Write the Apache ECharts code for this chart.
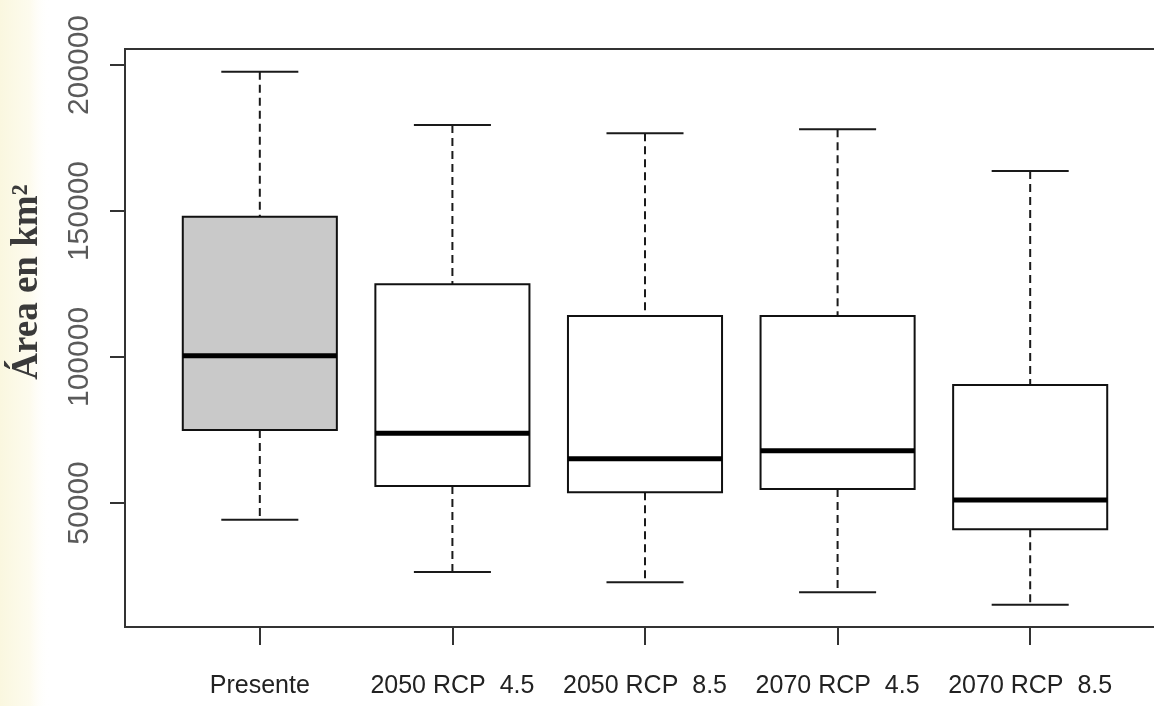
<!DOCTYPE html>
<html>
<head>
<meta charset="utf-8">
<script src="https://cdn.jsdelivr.net/npm/echarts@6/dist/echarts.min.js"></script>
<style>
  html, body { margin: 0; padding: 0; background: #fff; }
  #chart { width: 1154px; height: 706px; }
</style>
</head>
<body>
<div id="chart"></div>
<script>
// escenarios y estadísticos del boxplot
const categories = ['Presente', '2050 RCP  4.5', '2050 RCP  8.5', '2070 RCP  4.5', '2070 RCP  8.5'];
const whiskerLow = [44200, 26300, 22800, 19400, 15100];
const q1 = [75000, 55800, 53700, 54800, 41000];
const median = [100400, 73900, 65100, 67900, 51000];
const q3 = [148000, 124900, 114000, 114000, 90400];
const whiskerHigh = [197700, 179500, 176600, 178000, 163700];
const yTicks = [50000, 100000, 150000, 200000];
const xTicks = [1, 2, 3, 4, 5];

const rows = categories.map((c, i) => [i + 1, whiskerLow[i], q1[i], median[i], q3[i], whiskerHigh[i]]);

const chart = echarts.init(document.getElementById('chart'));

function renderItem(params, api) {
  const x = api.value(0);
  const lo = api.coord([x, api.value(1)]);
  const b1 = api.coord([x, api.value(2)]);
  const md = api.coord([x, api.value(3)]);
  const b3 = api.coord([x, api.value(4)]);
  const hi = api.coord([x, api.value(5)]);
  const band = api.size([1, 0])[0];
  const half = band * 0.4;
  const cap = band * 0.2;
  const cx = lo[0];
  const fill = params.dataIndex === 0 ? '#c9c9c9' : '#ffffff';
  const dashed = { stroke: '#1a1a1a', lineWidth: 2, lineDash: [8, 5] };
  const solid = { stroke: '#1a1a1a', lineWidth: 2 };
  return {
    type: 'group',
    children: [
      { type: 'line', shape: { x1: cx, y1: hi[1], x2: cx, y2: b3[1] }, style: dashed },
      { type: 'line', shape: { x1: cx, y1: b1[1], x2: cx, y2: lo[1] }, style: dashed },
      { type: 'line', shape: { x1: cx - cap, y1: hi[1], x2: cx + cap, y2: hi[1] }, style: solid },
      { type: 'line', shape: { x1: cx - cap, y1: lo[1], x2: cx + cap, y2: lo[1] }, style: solid },
      { type: 'rect', shape: { x: cx - half, y: b3[1], width: half * 2, height: b1[1] - b3[1] },
        style: { fill: fill, stroke: '#111', lineWidth: 2 } },
      { type: 'line', shape: { x1: cx - half, y1: md[1], x2: cx + half, y2: md[1] },
        style: { stroke: '#000', lineWidth: 5 } }
    ]
  };
}

chart.setOption({
  backgroundColor: '#ffffff',
  animation: false,
  grid: {
    left: 125, top: 49, width: 1040, bottom: 79,
    outerBoundsMode: 'none', containLabel: false,
    show: true, borderColor: '#333', borderWidth: 2, backgroundColor: 'transparent'
  },
  xAxis: {
    type: 'value',
    min: 0.3, max: 5.7,
    axisLine: { show: false },
    splitLine: { show: false },
    axisTick: { show: true, customValues: xTicks, length: 18, lineStyle: { color: '#333', width: 2 } },
    axisLabel: {
      customValues: xTicks,
      formatter: v => categories[Math.round(v) - 1] ?? '',
      fontFamily: '"Liberation Sans", Arial, sans-serif',
      fontSize: 25, color: '#222', margin: 47
    }
  },
  yAxis: {
    type: 'value',
    min: 7500, max: 205500,
    axisLine: { show: false },
    splitLine: { show: false },
    axisTick: { show: true, customValues: yTicks, length: 15, lineStyle: { color: '#333', width: 2 } },
    axisLabel: {
      customValues: yTicks,
      formatter: v => String(v),
      rotate: 90,
      fontFamily: '"Liberation Sans", Arial, sans-serif',
      fontSize: 30, color: '#5a5a5a', margin: 30
    }
  },
  graphic: [
    {
      type: 'rect', z: -10, silent: true,
      shape: { x: 0, y: 0, width: 50, height: 706 },
      style: {
        fill: new echarts.graphic.LinearGradient(0, 0, 1, 0, [
          { offset: 0, color: '#faf7df' },
          { offset: 0.6, color: '#fdfbee' },
          { offset: 1, color: 'rgba(255,255,255,0)' }
        ])
      }
    },
    {
      type: 'text', x: 27, y: 282, rotation: Math.PI / 2,
      style: {
        text: 'Área en km²',
        font: 'bold 37px "Liberation Serif", serif',
        fill: '#3a3a3a', align: 'center', verticalAlign: 'middle'
      }
    }
  ],
  series: [{
    type: 'custom',
    renderItem: renderItem,
    encode: { x: 0, y: [1, 2, 3, 4, 5] },
    data: rows
  }]
});
window.addEventListener('resize', () => chart.resize());
</script>
</body>
</html>
